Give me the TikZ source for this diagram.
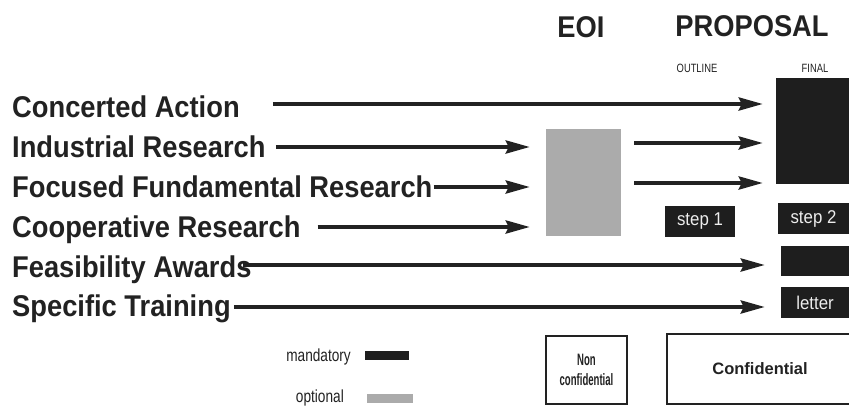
\documentclass[tikz,border=0pt]{standalone}
\usepackage{fontspec}
\setmainfont{Liberation Sans}
\newfontfamily\cond{Liberation Sans}[FakeStretch=0.91]
\newfontfamily\mcond{Liberation Sans}[FakeStretch=0.78]
\newfontfamily\vcond{Liberation Sans}[FakeStretch=0.58]
\usetikzlibrary{arrows.meta}
\definecolor{ink}{HTML}{222222}
\definecolor{blk}{HTML}{1E1E1E}
\definecolor{opt}{HTML}{ABABAB}
\begin{document}
\begin{tikzpicture}[x=1pt,y=-1pt,
  lab/.style={anchor=base west, inner sep=0pt, text=ink, font=\cond\bfseries\fontsize{30}{30}\selectfont},
  ttl/.style={anchor=base, inner sep=0pt, text=ink, font=\cond\bfseries\fontsize{30}{30}\selectfont},
  sub/.style={anchor=base, inner sep=0pt, text=ink, font=\mcond\fontsize{12}{12}\selectfont},
  arr/.style={line width=3.8pt, draw=ink, -{Stealth[length=24pt,width=13pt,inset=3pt]}},
  blkbox/.style={fill=blk, draw=none, inner sep=0pt, text=white!93!black, font=\cond\fontsize{18.5}{18.5}\selectfont},
  optbox/.style={fill=opt, draw=none, inner sep=0pt},
  legtxt/.style={anchor=base east, inner sep=0pt, text=ink, font=\mcond\fontsize{17.5}{17.5}\selectfont},
  frame/.style={draw=ink, line width=1.5pt, inner sep=0pt, text=ink, align=center}
]
\clip (0,0) rectangle (849,407);
\fill[white] (0,0) rectangle (849,407);

% titles
\node[ttl] (teoi) at (581,37) {EOI};
\node[ttl] (tprop) at (752,36) {PROPOSAL};
\node[sub] (tout) at (697,72) {OUTLINE};
\node[sub] (tfin) at (815,72) {FINAL};

% labels
\node[lab] (ca) at (12,117) {Concerted Action};
\node[lab] (ir) at (12,157) {Industrial Research};
\node[lab] (ffr) at (12,197) {Focused Fundamental Research};
\node[lab] (cr) at (12,237) {Cooperative Research};
\node[lab] (fa) at (12,277) {Feasibility Awards};
\node[lab] (st) at (12,316) {Specific Training};

% boxes
\node[optbox, minimum width=75pt, minimum height=107pt] (eoi) at (583.5,182.5) {};
\node[blkbox, minimum width=73pt, minimum height=106pt] (fin) at (812.5,131) {};
\node[blkbox, minimum width=70pt, minimum height=31pt] (s1) at (700,221.5) {step 1};
\node[blkbox, minimum width=71pt, minimum height=31pt] (s2) at (813.5,218.5) {step 2};
\node[blkbox, minimum width=68pt, minimum height=30pt] (fb) at (815,261) {};
\node[blkbox, minimum width=68pt, minimum height=31pt] (lt) at (815,302.5) {letter};

% arrows
\draw[arr, shorten <=33pt, shorten >=13pt] (ca.east |- 0,104) -- (fin.west |- 0,104);
\draw[arr, shorten <=10pt, shorten >=16pt] (ir.east |- 0,147) -- (eoi.west |- 0,147);
\draw[arr, shorten <=1pt, shorten >=16pt] (ffr.east |- 0,187) -- (eoi.west |- 0,187);
\draw[arr, shorten <=17pt, shorten >=16pt] (cr.east |- 0,227) -- (eoi.west |- 0,227);
\draw[arr, shorten <=-9pt, shorten >=16pt] (fa.east |- 0,265) -- (fb.west |- 0,265);
\draw[arr, shorten <=3pt, shorten >=16pt] (st.east |- 0,307) -- (lt.west |- 0,307);
\draw[arr, shorten <=13pt, shorten >=13pt] (eoi.east |- 0,143) -- (fin.west |- 0,143);
\draw[arr, shorten <=13pt, shorten >=13pt] (eoi.east |- 0,183) -- (fin.west |- 0,183);

% legend
\node[legtxt] (lm) at (351,361) {mandatory};
\node[legtxt] (lo) at (344,402) {optional};
\node[blkbox, minimum width=44pt, minimum height=9pt] (bm) at (387,355.5) {};
\node[optbox, minimum width=46pt, minimum height=9pt] (bo) at (390,398.5) {};

% confidentiality
\node[frame, minimum width=81pt, minimum height=68pt, font=\vcond\bfseries\fontsize{16.5}{19.5}\selectfont] (nc) at (586.5,370) {Non\\confidential};
\node[frame, minimum width=186pt, minimum height=70pt, font=\bfseries\fontsize{16.5}{16.5}\selectfont] (cf) at (760,369) {Confidential};
\end{tikzpicture}
\end{document}
